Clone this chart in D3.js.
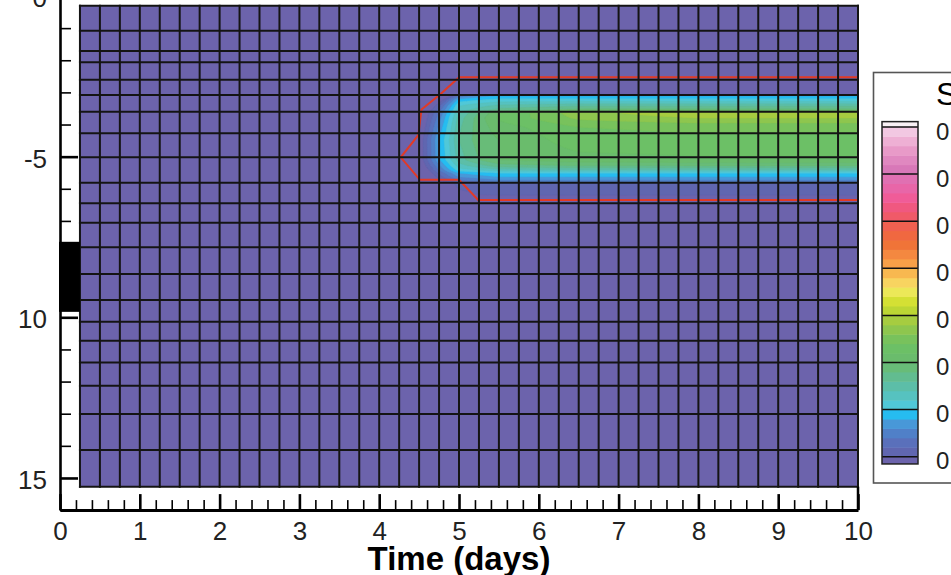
<!DOCTYPE html>
<html><head><meta charset="utf-8">
<script src="https://cdn.jsdelivr.net/npm/d3@7"></script>
<style>html,body{margin:0;padding:0;background:#fff;overflow:hidden}svg{display:block}</style>
</head><body>
<svg id="chart" width="951" height="575"></svg>
<script>
// ---------------- DATA ----------------
const xTickValues = [0,1,2,3,4,5,6,7,8,9,10];
const xTickLabels = ["0","1","2","3","4","5","6","7","8","9","10"];
const yTickValues = [0,5,10,15];
const yTickLabels = ["0","-5","10","15"];

// mesh lines (time in days, depth)
const meshTimes = [0.25,0.5,0.75,1,1.25,1.5,1.75,2,2.25,2.5,2.75,3,3.25,3.5,3.75,4,4.25,4.5,4.75,5,
                   5.25,5.5,5.75,6,6.25,6.5,6.75,7,7.25,7.5,7.75,8,8.25,8.5,8.75,9,9.25,9.5,9.75,10];
const meshDepths = [0.30,1.08,1.71,2.06,2.61,3.08,3.60,4.27,5.02,5.81,6.45,7.06,7.82,8.65,9.46,10.14,10.73,11.41,12.13,13.01,14.13,15.27];

// field S: depth profiles at a few times
const profileDepths = [2.52,2.93,3.07,3.11,3.24,3.39,3.55,3.63,3.80,4.08,4.48,5.10,5.29,5.42,5.51,5.63,5.76,5.85,6.19,6.35];
const sAt4_25 = [0,0,0,0,0,0,0,0,0,0,0,0,0,0,0,0,0,0,0,0];
const sAt4_50 = [0,0,0,0.005,0.015,0.02,0.025,0.03,0.032,0.035,0.04,0.04,0.035,0.03,0.025,0.02,0.015,0.01,0.005,0];
const sAt4_75 = [0,0,0.01,0.02,0.04,0.055,0.065,0.07,0.075,0.082,0.09,0.088,0.078,0.07,0.062,0.055,0.045,0.035,0.02,0];
const sAt5_00 = [0,0.01,0.035,0.07,0.095,0.108,0.115,0.12,0.125,0.128,0.13,0.125,0.115,0.105,0.09,0.08,0.065,0.055,0.045,0];
const sAt5_25 = [0,0.015,0.045,0.085,0.10,0.115,0.125,0.14,0.145,0.145,0.145,0.14,0.125,0.11,0.095,0.085,0.07,0.058,0.05,0];
const sAt5_50 = [0,0.02,0.05,0.09,0.105,0.12,0.135,0.16,0.162,0.155,0.15,0.15,0.135,0.115,0.10,0.09,0.075,0.06,0.053,0];
const sAt6_50 = [0,0.02,0.05,0.09,0.105,0.125,0.145,0.186,0.182,0.17,0.166,0.156,0.14,0.12,0.10,0.09,0.075,0.06,0.053,0];
const sAt8_00 = [0,0.02,0.05,0.09,0.105,0.125,0.145,0.199,0.19,0.172,0.168,0.158,0.14,0.12,0.10,0.09,0.075,0.06,0.053,0];
const sAt10_0 = [0,0.02,0.05,0.09,0.105,0.125,0.145,0.199,0.19,0.172,0.168,0.158,0.14,0.12,0.10,0.09,0.075,0.06,0.053,0];
const profileTimes = [4.25,4.5,4.75,5.0,5.25,5.5,6.5,8.0,10.0];
const profiles = [sAt4_25,sAt4_50,sAt4_75,sAt5_00,sAt5_25,sAt5_50,sAt6_50,sAt8_00,sAt10_0];

// red boundary line
const boundaryT = [10,5.0,4.78,4.53,4.49,4.27,4.51,5.0,5.24,10];
const boundaryD = [2.53,2.53,3.03,3.53,4.33,5.02,5.72,5.72,6.35,6.35];

// black block on the left (depth range)
const blockDepth = [7.65,9.83];

// contour levels / legend
const levels = [0.05,0.06,0.07,0.08,0.09,0.10,0.11,0.12,0.13,0.14,0.15,0.16,0.17,0.18,0.19,0.20,
                0.21,0.22,0.23,0.24,0.25,0.26,0.27,0.28,0.29,0.30,0.31,0.32,0.33,0.34,0.35,0.36,0.37,0.38,0.39,0.40];
const legendLevels = [0.05,0.10,0.15,0.20,0.25,0.30,0.35,0.40];
const legendLabels = ["0.05","0.10","0.15","0.20","0.25","0.30","0.35","0.40"];
const legendTitle = "S";
const xTitle = "Time (days)";

// ---------------- STYLE ----------------
const bgColor = "#6c63ac";
const bandColors = [
 "#6066b0","#5a70bb","#5080c8","#4898d8","#26bcf0",
 "#50c8d8","#56c2c0","#5cbea8","#62bc90","#68bc78",
 "#6abc6c","#6cc066","#78c25c","#8ec64e","#a6cc40",
 "#bcd634","#d4e034","#ece858","#f8d460","#f8b850",
 "#f8a048","#f48840","#f07438","#f06840","#f06050",
 "#f05a68","#f05880","#f05c98","#e866a8","#e070b2",
 "#d878b8","#e088c0","#e89ac8","#eeb0d4","#f2c8e2",
 "#f8f0f4"];

// ---------------- SCALES ----------------
const svg = d3.select("#chart");
const x = d3.scaleLinear().domain([0,10]).range([60,858]);
const y = d3.scaleLinear().domain([0,16]).range([-4,510.1]);

const gx0 = x(meshTimes[0]), gx1 = x(meshTimes[meshTimes.length-1]);
const gy0 = y(meshDepths[0]), gy1 = y(meshDepths[meshDepths.length-1]);

svg.append("defs").append("clipPath").attr("id","meshClip")
  .append("rect").attr("x",gx0).attr("y",gy0).attr("width",gx1-gx0).attr("height",gy1-gy0);

// background
svg.append("rect").attr("x",gx0).attr("y",gy0).attr("width",gx1-gx0).attr("height",gy1-gy0)
  .attr("fill",bgColor);

// ---------------- FIELD ----------------
function profileAt(k,d){
  const ds = profileDepths, vs = profiles[k];
  if (d <= ds[0] || d >= ds[ds.length-1]) return 0;
  const j = d3.bisectRight(ds,d)-1;
  const f = (d-ds[j])/(ds[j+1]-ds[j]);
  return vs[j]*(1-f)+vs[j+1]*f;
}
function field(t,d){
  const n = profileTimes.length;
  if (t <= profileTimes[0]) return 0;
  if (t >= profileTimes[n-1]) return profileAt(n-1,d);
  const k = d3.bisectRight(profileTimes,t)-1;
  const f = (t-profileTimes[k])/(profileTimes[k+1]-profileTimes[k]);
  return profileAt(k,d)*(1-f)+profileAt(k+1,d)*f;
}
const t0=4.0, t1=10.05, dt=0.0125, d0=2.3, d1=6.6, dd=0.025;
const nx = Math.round((t1-t0)/dt)+1, ny = Math.round((d1-d0)/dd)+1;
const vals = new Float64Array(nx*ny);
for (let j=0;j<ny;j++) for (let i=0;i<nx;i++) vals[j*nx+i] = field(t0+i*dt, d0+j*dd);
const cont = d3.contours().size([nx,ny]).thresholds(levels)(vals);
const proj = d3.geoTransform({point(px,py){ this.stream.point(x(t0+(px-0.5)*dt), y(d0+(py-0.5)*dd)); }});
const gpath = d3.geoPath(proj);
const gField = svg.append("g").attr("clip-path","url(#meshClip)");
gField.selectAll("path").data(cont).join("path")
  .attr("d",gpath)
  .attr("fill",(c,i)=>bandColors[Math.min(i,bandColors.length-1)])
  .attr("fill-rule","evenodd")
  .attr("stroke",(c,i)=>bandColors[Math.min(i,bandColors.length-1)])
  .attr("stroke-width",0.4);

// red boundary
svg.append("path")
  .attr("d", d3.line().x(i=>x(boundaryT[i])).y(i=>y(boundaryD[i]))(d3.range(boundaryT.length)))
  .attr("fill","none").attr("stroke","#e23a26").attr("stroke-width",2);

// mesh
const gMesh = svg.append("g").attr("stroke","#141414").attr("stroke-width",2);
gMesh.selectAll("line.v").data(meshTimes).join("line").attr("class","v")
  .attr("x1",d=>x(d)).attr("x2",d=>x(d)).attr("y1",gy0-1).attr("y2",gy1+1);
gMesh.selectAll("line.h").data(meshDepths).join("line").attr("class","h")
  .attr("y1",d=>y(d)).attr("y2",d=>y(d)).attr("x1",gx0-1).attr("x2",gx1+1);
// right frame below mesh
svg.append("line").attr("x1",x(10)).attr("x2",x(10)).attr("y1",gy1).attr("y2",y(16))
  .attr("stroke","#000").attr("stroke-width",2.5);

// ---------------- AXES ----------------
const fontF = "'Liberation Sans', Arial, Helvetica, sans-serif";
// x minor
const xMinor = d3.range(0,10.0001,0.2).map(v=>+v.toFixed(1)).filter(v=>Math.abs(v-Math.round(v))>1e-6);
svg.append("g").attr("transform",`translate(0,${y(16)})`)
  .call(d3.axisBottom(x).tickValues(xMinor).tickSize(-10).tickFormat(""))
  .call(g=>g.select(".domain").remove())
  .call(g=>g.selectAll("line").attr("stroke","#000").attr("stroke-width",1.6));
const gxA = svg.append("g").attr("transform",`translate(0,${y(16)})`)
  .call(d3.axisBottom(x).tickValues(xTickValues).tickSize(-16).tickSizeOuter(0).tickPadding(11)
        .tickFormat((d,i)=>xTickLabels[i]));
gxA.select(".domain").attr("stroke","#000").attr("stroke-width",3);
gxA.selectAll("line").attr("stroke","#000").attr("stroke-width",2.6);
gxA.selectAll("text").attr("font-family",fontF).attr("font-size",26).attr("fill","#222");

// y minor
const yMinor = d3.range(1,17).filter(v=>v%5!==0);
svg.append("g").attr("transform",`translate(${x(0)},0)`)
  .call(d3.axisLeft(y).tickValues(yMinor).tickSize(-11).tickFormat(""))
  .call(g=>g.select(".domain").remove())
  .call(g=>g.selectAll("line").attr("stroke","#000").attr("stroke-width",1.6));
const gyA = svg.append("g").attr("transform",`translate(${x(0)},0)`)
  .call(d3.axisLeft(y).tickValues(yTickValues).tickSize(-18).tickSizeOuter(0).tickPadding(13)
        .tickFormat((d,i)=>yTickLabels[i]));
gyA.select(".domain").attr("stroke","#000").attr("stroke-width",2.6);
gyA.selectAll("line").attr("stroke","#000").attr("stroke-width",2.6);
gyA.selectAll("text").attr("font-family",fontF).attr("font-size",26).attr("fill","#222").attr("dy","0.4em");

// black block
svg.append("rect").attr("x",x(0)-1).attr("y",y(blockDepth[0]))
  .attr("width",x(0.25)-x(0)+1).attr("height",y(blockDepth[1])-y(blockDepth[0])).attr("fill","#000");

// x title
svg.append("text").attr("x",(x(0)+x(10))/2).attr("y",570).attr("text-anchor","middle")
  .attr("font-family",fontF).attr("font-weight","bold").attr("font-size",33).attr("fill","#000")
  .text(xTitle);

// ---------------- LEGEND ----------------
const cb = d3.scaleLinear().domain([0.05,0.40]).range([456.7,127]);
const lg = svg.append("g");
lg.append("rect").attr("x",873.5).attr("y",72.5).attr("width",120).attr("height",410.5)
  .attr("fill","#fff").attr("stroke","#555").attr("stroke-width",1.6);
lg.append("text").attr("x",936).attr("y",105).attr("font-family",fontF).attr("font-size",32)
  .attr("fill","#000").text(legendTitle);
const cbX0=882, cbX1=918;
// below lowest level
lg.append("rect").attr("x",cbX0).attr("y",cb(0.05)).attr("width",cbX1-cbX0).attr("height",cb(0.0423)-cb(0.05)).attr("fill",bgColor);
lg.selectAll("rect.band").data(levels.slice(0,-1)).join("rect").attr("class","band")
  .attr("x",cbX0).attr("width",cbX1-cbX0)
  .attr("y",(v,i)=>cb(levels[i+1])).attr("height",(v,i)=>cb(levels[i])-cb(levels[i+1])+0.5)
  .attr("fill",(v,i)=>bandColors[i]);
lg.append("rect").attr("x",cbX0).attr("y",cb(0.4057)).attr("width",cbX1-cbX0).attr("height",cb(0.40)-cb(0.4057)).attr("fill",bandColors[bandColors.length-1]);
lg.selectAll("line.lv").data(legendLevels).join("line").attr("class","lv")
  .attr("x1",cbX0).attr("x2",cbX1).attr("y1",d=>cb(d)).attr("y2",d=>cb(d))
  .attr("stroke","#111").attr("stroke-width",1.5);
lg.append("rect").attr("x",cbX0).attr("y",cb(0.4057)).attr("width",cbX1-cbX0).attr("height",cb(0.0423)-cb(0.4057))
  .attr("fill","none").attr("stroke","#222").attr("stroke-width",1.5);
lg.selectAll("text.ll").data(legendLevels).join("text").attr("class","ll")
  .attr("x",936).attr("y",d=>cb(d)+12.5).attr("font-family",fontF).attr("font-size",24).attr("fill","#222")
  .text((d,i)=>legendLabels[i]);
</script>
</body></html>
